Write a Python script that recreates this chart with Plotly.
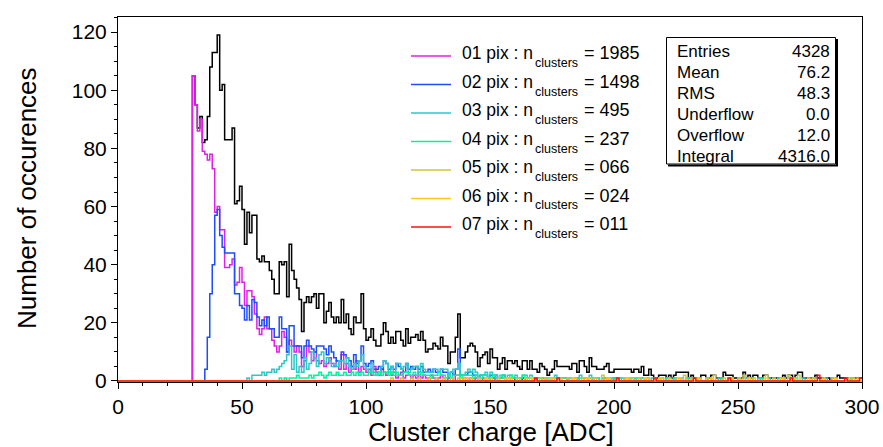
import plotly.graph_objects as go

# --- histogram binning : 300 bins of 1 ADC from 0 to 300
N_BINS = 300
X_MIN, X_MAX = 0, 300

# total cluster charge (all cluster sizes), bins 30..299
total_start = 30
total_counts = [
    105, 95, 87, 91, 82, 83, 91, 108, 113, 113,
    119, 100, 102, 83, 83, 83, 87, 61, 62, 67,
    59, 47, 58, 51, 57, 57, 42, 41, 43, 41,
    41, 38, 35, 30, 30, 41, 40, 41, 29, 47,
    38, 35, 32, 28, 17, 27, 29, 27, 29, 30,
    25, 30, 30, 20, 24, 27, 22, 20, 22, 20,
    28, 20, 23, 18, 16, 22, 20, 20, 30, 18,
    14, 15, 18, 14, 12, 12, 16, 20, 17, 13,
    15, 13, 17, 17, 14, 12, 18, 13, 15, 15,
    16, 14, 17, 14, 10, 11, 11, 13, 12, 11,
    15, 12, 12, 6, 10, 10, 15, 23, 8, 8,
    10, 12, 13, 12, 10, 5, 8, 9, 10, 6,
    11, 8, 8, 4, 6, 8, 4, 7, 7, 6,
    7, 5, 4, 7, 7, 4, 7, 4, 4, 3,
    6, 5, 4, 2, 3, 4, 7, 5, 5, 5,
    5, 5, 4, 6, 6, 3, 7, 7, 5, 3,
    8, 5, 5, 4, 4, 4, 5, 6, 3, 3,
    4, 4, 4, 4, 4, 4, 4, 3, 4, 4,
    3, 5, 2, 2, 4, 2, 1, 1, 2, 2,
    2, 1, 2, 1, 2, 3, 3, 3, 3, 3,
    1, 2, 1, 1, 1, 2, 2, 1, 1, 2,
    2, 1, 1, 1, 3, 2, 2, 2, 1, 1,
    1, 1, 3, 1, 2, 1, 2, 2, 1, 1,
    2, 2, 1, 1, 1, 1, 1, 1, 2, 1,
    2, 2, 1, 2, 3, 3, 1, 1, 1, 1,
    1, 2, 1, 1, 1, 1, 1, 0, 1, 1,
    2, 1, 1, 1, 1, 0, 1, 1, 1, 1,
]

# 01 pix clusters
pix1_start = 30
pix1_counts = [
    105, 95, 86, 90, 79, 78, 76, 78, 73, 58,
    60, 52, 52, 39, 39, 40, 42, 33, 34, 39,
    34, 26, 31, 31, 29, 23, 18, 16, 18, 22,
    18, 18, 14, 12, 10, 12, 17, 15, 10, 14,
    12, 10, 12, 10, 5, 7, 12, 10, 7, 10,
    7, 6, 7, 5, 6, 8, 6, 5, 7, 4,
    9, 4, 6, 3, 5, 4, 7, 3, 5, 4,
    3, 4, 2, 5, 3, 2, 4, 3, 2, 3,
    2, 3, 1, 2, 3, 1, 2, 2, 1, 2,
    1, 3, 1, 2, 1, 1, 2, 1, 0, 1,
    2, 1, 0, 1, 1, 0, 2, 2, 0, 1,
    1, 0, 1, 0, 1, 0, 0, 1, 0, 1,
]
pix1_extra = {152: 1, 157: 1, 163: 1, 171: 1, 185: 1, 196: 1}

# 02 pix clusters
pix2_start = 35
pix2_counts = [
    4, 15, 30, 40, 57,
    59, 50, 46, 44, 44, 44, 44, 30, 30, 26,
    25, 21, 26, 21, 28, 27, 22, 19, 21, 19,
    22, 18, 18, 15, 15, 22, 18, 18, 10, 19,
    19, 12, 12, 12, 8, 12, 14, 12, 11, 10,
    12, 12, 12, 11, 9, 12, 10, 8, 7, 7,
    10, 9, 8, 7, 5, 9, 6, 7, 12, 6,
    5, 6, 7, 4, 4, 5, 4, 7, 6, 4,
    5, 4, 6, 5, 4, 3, 6, 4, 5, 4,
    5, 4, 5, 3, 3, 4, 3, 4, 3, 3,
    4, 3, 3, 1, 3, 2, 4, 11, 2, 2,
    2, 3, 3, 2, 2, 1, 2, 2, 2, 1,
    2, 1, 2, 1, 1, 2, 1, 1, 1, 1,
]
pix2_extra = {163: 1, 168: 1, 174: 1, 181: 1, 190: 1, 199: 1, 211: 1, 224: 1, 238: 1, 250: 1}

# 03 pix clusters
pix3_start = 52
pix3_counts = [
    1, 0, 2, 2, 2, 2, 3, 2,
    3, 3, 4, 3, 4, 5, 6, 7, 9, 12,
    4, 9, 3, 5, 3, 8, 4, 6, 10, 8,
    5, 9, 10, 6, 8, 7, 5, 6, 5, 7,
    7, 6, 8, 5, 4, 6, 5, 7, 9, 5,
    4, 3, 6, 3, 2, 3, 5, 7, 6, 3,
    5, 3, 6, 6, 4, 5, 6, 3, 4, 5,
    5, 3, 6, 4, 3, 3, 3, 4, 4, 3,
    4, 4, 4, 2, 3, 4, 4, 6, 2, 2,
    3, 4, 3, 4, 3, 1, 2, 2, 3, 1,
    3, 2, 2, 1, 1, 2, 1, 2, 2, 1,
    2, 1, 1, 2, 2, 1, 2, 1, 1, 1,
    1, 1, 1, 0, 1, 1, 2, 1, 1, 1,
    1, 1, 1, 1, 1, 1, 2, 1, 1, 0,
    2, 1, 1, 1, 0, 1, 1, 1, 0, 1,
]
pix3_extra = {200: 1, 202: 1, 203: 1, 205: 1, 207: 1, 209: 1, 210: 1, 213: 1, 215: 1,
              218: 1, 221: 1, 224: 1, 227: 1, 230: 1, 234: 1, 238: 1, 242: 1, 246: 1,
              253: 1, 258: 1, 262: 1, 268: 1, 276: 1, 285: 1, 296: 1}

# 04 pix clusters
pix4_start = 65
pix4_counts = [
    1, 0, 1, 0, 1,
    1, 1, 2, 1, 1, 1, 1, 2, 1, 2,
    2, 3, 2, 1, 2, 3, 2, 2, 3, 2,
    2, 3, 2, 2, 3, 2, 3, 2, 3, 2,
    2, 3, 3, 2, 2, 3, 2, 3, 3, 2,
    3, 2, 3, 2, 2, 3, 3, 2, 2, 3,
    2, 2, 3, 2, 2, 2, 1, 2, 2, 3,
    2, 2, 1, 2, 1, 2, 2, 2, 1, 2,
    2, 2, 2, 1, 2, 1, 1, 2, 2, 1,
    1, 2, 1, 1, 2, 1, 1, 1, 2, 1,
    1, 1, 1, 2, 1, 1, 1, 0, 1, 1,
    1, 0, 1, 1, 0, 1, 1, 0, 1, 1,
]
pix4_extra = {180: 1, 181: 1, 183: 1, 184: 1, 186: 1, 187: 1, 189: 1, 190: 1, 192: 1,
              193: 1, 195: 1, 197: 1, 198: 1, 200: 1, 202: 1, 204: 1, 206: 1, 208: 1,
              211: 1, 213: 1, 216: 1, 219: 1, 221: 1, 224: 1, 226: 1, 229: 1, 231: 1,
              233: 1, 237: 1, 243: 1, 250: 1, 255: 1, 259: 1, 266: 1, 273: 1, 280: 1,
              288: 1, 295: 1}

# 05, 06, 07 pix clusters (sparse)
pix5_extra = {110: 1, 114: 1, 118: 1, 121: 1, 125: 1, 128: 1, 131: 1, 134: 1, 137: 1,
              139: 1, 142: 1, 145: 1, 148: 1, 150: 1, 153: 1, 156: 1, 158: 1, 161: 1,
              164: 1, 167: 1, 170: 1, 172: 1, 175: 1, 178: 1, 181: 1, 184: 1, 187: 1,
              190: 1, 192: 1, 195: 2, 198: 1, 201: 1, 204: 1, 207: 1, 210: 1, 213: 1,
              216: 1, 219: 1, 222: 1, 225: 1, 228: 2, 231: 1, 234: 1, 237: 1, 240: 2,
              244: 1, 247: 1, 250: 1, 252: 2, 256: 1, 261: 2, 264: 1, 268: 1, 270: 2,
              274: 2, 280: 1, 288: 1, 296: 1}
pix6_extra = {140: 1, 148: 1, 157: 1, 166: 1, 174: 1, 183: 1, 189: 1, 197: 1, 205: 1,
              212: 1, 218: 1, 226: 1, 233: 1, 239: 1, 247: 1, 254: 1, 261: 1, 267: 1,
              272: 1, 278: 1, 284: 1, 289: 1, 294: 1, 298: 1}
pix7_extra = {168: 1, 177: 1, 201: 1, 216: 1, 232: 1, 246: 1, 271: 1, 282: 2, 293: 1, 299: 1}

legend_labels = ["01 pix", "02 pix", "03 pix", "04 pix", "05 pix", "06 pix", "07 pix"]
legend_counts = ["1985", "1498", "495", "237", "066", "024", "011"]
colors = ["#e020e8", "#1f4cff", "#2cc8c8", "#00f59a", "#c8c83c", "#ffc61e", "#ff1010"]

stats_names = ["Entries", "Mean", "RMS", "Underflow", "Overflow", "Integral"]
stats_values = ["4328", "76.2", "48.3", "0.0", "12.0", "4316.0"]


def fill(start=0, counts=(), extra=None):
    h = [0] * N_BINS
    for i, c in enumerate(counts):
        h[start + i] = c
    for b, c in (extra or {}).items():
        h[b] += c
    return h


series = [
    fill(pix1_start, pix1_counts, pix1_extra),
    fill(pix2_start, pix2_counts, pix2_extra),
    fill(pix3_start, pix3_counts, pix3_extra),
    fill(pix4_start, pix4_counts, pix4_extra),
    fill(extra=pix5_extra),
    fill(extra=pix6_extra),
    fill(extra=pix7_extra),
]
total = fill(total_start, total_counts)

edges = list(range(X_MIN, X_MAX + 1))

fig = go.Figure()
fig.add_trace(go.Scatter(x=edges, y=total + [total[-1]], mode="lines",
                         line=dict(color="black", width=1.5, shape="hv"), hoverinfo="skip"))
for h, col in zip(series, colors):
    fig.add_trace(go.Scatter(x=edges, y=h + [h[-1]], mode="lines",
                             line=dict(color=col, width=1.5, shape="hv"), hoverinfo="skip"))

# plot frame in pixels
L, R, T, B = 118, 862, 17, 382


def px(x):
    return (x - L) / (R - L)


def py(y):
    return (B - y) / (B - T)


FONT = "Liberation Sans, Arial, Helvetica, sans-serif"
shapes = []
annotations = []

# legend
for i, (lab, n, col) in enumerate(zip(legend_labels, legend_counts, colors)):
    yc = 53 + 28.5 * i
    shapes.append(dict(type="line", xref="paper", yref="paper", x0=px(411), x1=px(451),
                       y0=py(yc + 3), y1=py(yc + 3), line=dict(color=col, width=1.5)))
    annotations.append(dict(x=px(460), y=py(yc), xref="paper", yref="paper", text=lab + " : n",
                            xanchor="left", yanchor="middle", showarrow=False,
                            font=dict(size=17.5, family=FONT, color="black")))
    annotations.append(dict(x=px(533), y=py(yc + 10), xref="paper", yref="paper", text="clusters",
                            xanchor="left", yanchor="middle", showarrow=False,
                            font=dict(size=12.5, family=FONT, color="black")))
    annotations.append(dict(x=px(582), y=py(yc), xref="paper", yref="paper", text="= " + n,
                            xanchor="left", yanchor="middle", showarrow=False,
                            font=dict(size=18, family=FONT, color="black")))

# stats box
shapes.append(dict(type="rect", xref="paper", yref="paper", x0=px(666.5), x1=px(835.5),
                   y0=py(164), y1=py(37.5), line=dict(color="black", width=1), fillcolor="white"))
shapes.append(dict(type="line", xref="paper", yref="paper", x0=px(837), x1=px(837),
                   y0=py(165.5), y1=py(39), line=dict(color="black", width=2)))
shapes.append(dict(type="line", xref="paper", yref="paper", x0=px(668), x1=px(838),
                   y0=py(165.5), y1=py(165.5), line=dict(color="black", width=2)))
for i, (nm, v) in enumerate(zip(stats_names, stats_values)):
    yc = 51.5 + 21 * i
    annotations.append(dict(x=px(675), y=py(yc), xref="paper", yref="paper", text=nm,
                            xanchor="left", yanchor="middle", showarrow=False,
                            font=dict(size=17, family=FONT, color="black")))
    annotations.append(dict(x=px(832), y=py(yc), xref="paper", yref="paper", text=v,
                            xanchor="right", yanchor="middle", showarrow=False,
                            font=dict(size=17, family=FONT, color="black")))

# axis titles
annotations.append(dict(x=px(491), y=py(432), xref="paper", yref="paper",
                        text="Cluster charge [ADC]", showarrow=False,
                        xanchor="center", yanchor="middle",
                        font=dict(size=26, family=FONT, color="black")))
annotations.append(dict(x=px(27), y=py(198), xref="paper", yref="paper",
                        text="Number of occurences", showarrow=False, textangle=-90,
                        xanchor="center", yanchor="middle",
                        font=dict(size=26, family=FONT, color="black")))

fig.update_layout(
    width=883, height=447, autosize=False,
    margin=dict(l=L, r=883 - R, t=T, b=447 - B, pad=0, autoexpand=False),
    paper_bgcolor="white", plot_bgcolor="white",
    showlegend=False,
    font=dict(family=FONT, color="black"),
    shapes=shapes, annotations=annotations,
)
axis_style = dict(showline=True, linecolor="black", linewidth=1, mirror=True,
                  ticks="outside", ticklen=6, tickwidth=1, tickcolor="black",
                  showgrid=False, zeroline=False, layer="below traces", automargin=False,
                  tickfont=dict(size=21, family=FONT, color="black"))
fig.update_xaxes(range=[X_MIN, X_MAX], tick0=0, dtick=50,
                 minor=dict(dtick=10, ticklen=3, ticks="outside", tickcolor="black"), **axis_style)
# small negative floor so the zero-level lines are not clipped at the frame
fig.update_yaxes(range=[-0.35, 125.2], tick0=0, dtick=20,
                 minor=dict(dtick=5, ticklen=3, ticks="outside", tickcolor="black"), **axis_style)

fig.write_html("out.html",
               config={"responsive": False, "displayModeBar": False, "staticPlot": True},
               post_script="document.body.style.margin='0';document.body.style.overflow='hidden';")
